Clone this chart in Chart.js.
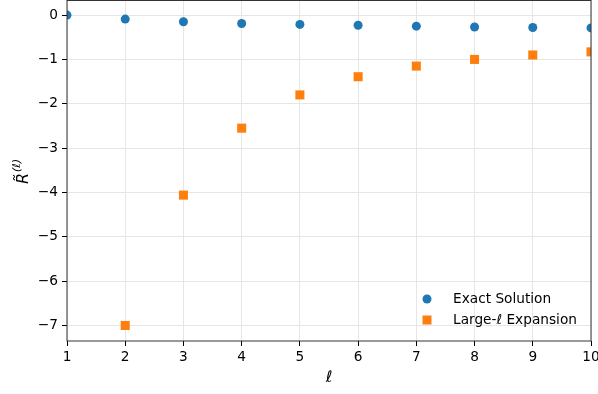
<!DOCTYPE html>
<html>
<head>
<meta charset="utf-8">
<script src="https://cdn.jsdelivr.net/npm/chart.js@4/dist/chart.umd.min.js"></script>
<style>
  html, body { margin: 0; padding: 0; background: #fff; }
  canvas { display: block; }
</style>
</head>
<body>
<canvas id="chart" width="598" height="394"></canvas>
<script>
// values
var ells = [1, 2, 3, 4, 5, 6, 7, 8, 9, 10];
var exactSolution = [0, -0.09, -0.15, -0.19, -0.21, -0.23, -0.25, -0.27, -0.28, -0.29];
var largeEll = [2, 3, 4, 5, 6, 7, 8, 9, 10];
var largeExpansion = [-7.0, -4.06, -2.55, -1.8, -1.39, -1.15, -1.0, -0.9, -0.83];
var yTicks = [-7, -6, -5, -4, -3, -2, -1, 0];

var FONT = 'DejaVu Sans';
var blue = '#1f77b4';
var orange = '#ff7f0e';

function toPoints(xs, ys) {
    return xs.map(function(x, i) { return { x: x, y: ys[i] }; });
}

// frame, axis titles and the in-plot legend
var decor = {
    id: 'decor',
    afterDraw: function(chart) {
        var ctx = chart.ctx;
        var a = chart.chartArea;
        ctx.save();
        ctx.strokeStyle = '#333';
        ctx.lineWidth = 1;
        ctx.strokeRect(a.left, a.top + 0.5, a.right - a.left, a.bottom - a.top - 0.5);

        // x title
        ctx.fillStyle = '#000';
        ctx.font = 'italic 16px ' + FONT;
        ctx.textAlign = 'center';
        ctx.textBaseline = 'middle';
        ctx.fillText('\u2113', (a.left + a.right) / 2, 378);

        // y title, rotated
        ctx.translate(22, 170);
        ctx.rotate(-Math.PI / 2);
        ctx.font = 'italic 16px ' + FONT;
        ctx.textAlign = 'left';
        ctx.textBaseline = 'middle';
        ctx.fillText('R\u0303', -14, 2);
        ctx.font = 'italic 11px ' + FONT;
        ctx.fillText('(\u2113)', -2, -5);
        ctx.restore();

        // legend
        ctx.save();
        ctx.font = '13.7px ' + FONT;
        ctx.textBaseline = 'middle';
        ctx.textAlign = 'left';
        ctx.fillStyle = blue;
        ctx.beginPath();
        ctx.arc(427, 299, 4.5, 0, Math.PI * 2);
        ctx.fill();
        ctx.fillStyle = orange;
        ctx.fillRect(422.5, 315.5, 9, 9);
        ctx.fillStyle = '#000';
        ctx.fillText('Exact Solution', 453, 299);
        ctx.fillText('Large-\u2113 Expansion', 453, 320);
        ctx.restore();
    }
};

var ctx = document.getElementById('chart');

new Chart(ctx, {
    type: 'scatter',
    data: {
        datasets: [{
            label: 'Exact Solution',
            data: toPoints(ells, exactSolution),
            backgroundColor: blue,
            borderWidth: 0,
            pointStyle: 'circle',
            pointRadius: 4.5
        }, {
            label: 'Large-\u2113 Expansion',
            data: toPoints(largeEll, largeExpansion),
            backgroundColor: orange,
            borderWidth: 0,
            pointStyle: 'rect',
            pointRadius: 6.4
        }]
    },
    options: {
        responsive: false,
        animation: false,
        devicePixelRatio: 1,
        layout: { autoPadding: false, padding: { left: 0, right: 7, top: 0, bottom: 0 } },
        plugins: {
            legend: { display: false },
            tooltip: { enabled: false }
        },
        scales: {
            x: {
                type: 'linear',
                min: 1,
                max: 10,
                border: { display: false },
                grid: { color: '#e6e6e6', tickColor: '#000', tickLength: 5 },
                ticks: {
                    stepSize: 1,
                    autoSkip: false,
                    padding: 3,
                    color: '#000',
                    font: { family: FONT, size: 13.7 },
                    maxRotation: 0
                },
                afterFit: function(scale) {
                    scale.height = 53;
                    scale.paddingLeft = 0;
                    scale.paddingRight = 0;
                }
            },
            y: {
                type: 'linear',
                min: -7.35,
                max: 0.34,
                border: { display: false },
                grid: { color: '#e6e6e6', tickColor: '#000', tickLength: 5 },
                afterBuildTicks: function(scale) {
                    scale.ticks = yTicks.map(function(v) { return { value: v }; });
                },
                ticks: {
                    autoSkip: false,
                    padding: 4,
                    color: '#000',
                    font: { family: FONT, size: 13.7 },
                    callback: function(v) { return v < 0 ? '\u2212' + Math.abs(v) : '' + v; }
                },
                afterFit: function(scale) {
                    scale.width = 67;
                    scale.paddingTop = 0;
                    scale.paddingBottom = 0;
                }
            }
        }
    },
    plugins: [decor]
});
</script>
</body>
</html>
